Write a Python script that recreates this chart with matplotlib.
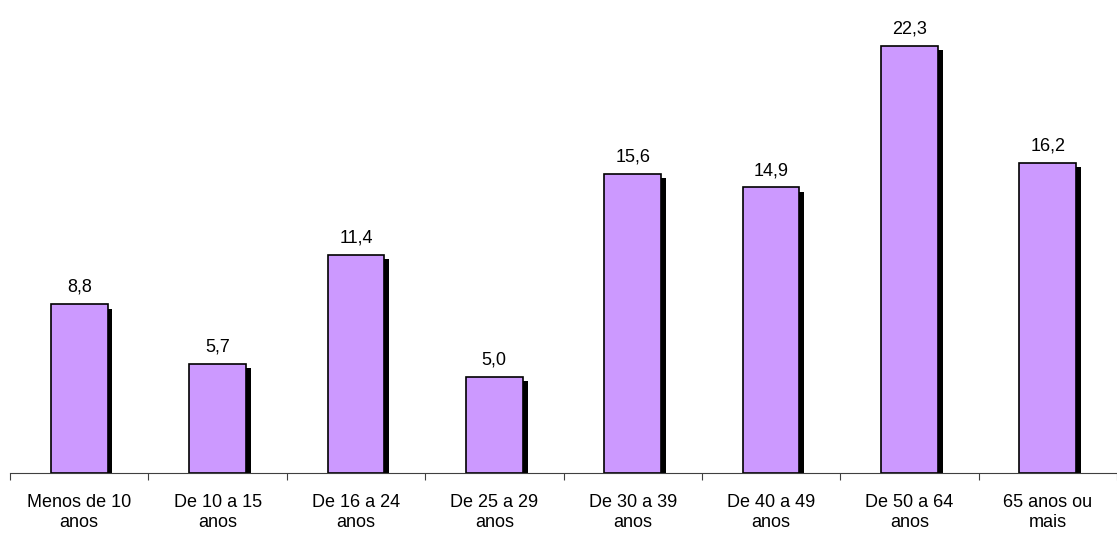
import matplotlib.pyplot as plt
import numpy as np

plt.rcParams['font.family'] = ['Liberation Sans', 'DejaVu Sans']

categorias = ['Menos de 10\nanos', 'De 10 a 15\nanos', 'De 16 a 24\nanos', 'De 25 a 29\nanos',
              'De 30 a 39\nanos', 'De 40 a 49\nanos', 'De 50 a 64\nanos', '65 anos ou\nmais']
valores = [8.8, 5.7, 11.4, 5.0, 15.6, 14.9, 22.3, 16.2]

fig = plt.figure(figsize=(11.17, 5.42), dpi=100)
ax = fig.add_axes([10 / 1117, 69 / 542, 1107 / 1117, 460 / 542])

x = np.arange(len(valores))
larg = 0.41

# sombra preta deslocada para a direita/baixo
ax.bar(x + 0.035, np.array(valores) - 0.22, width=larg, color='black', zorder=1)
ax.bar(x, valores, width=larg, color='#CC99FF', edgecolor='black', linewidth=1.2, zorder=2)

for xi, v in zip(x, valores):
    ax.annotate(f'{v:.1f}'.replace('.', ','), (xi, v), xytext=(0, 6), textcoords='offset points',
                ha='center', va='bottom', fontsize=13)

ax.set_xlim(-0.5, len(valores) - 0.5)
ax.set_ylim(0, 24)
ax.set_yticks([])
ax.set_xticks(x)
ax.set_xticklabels(categorias, fontsize=13, linespacing=1.25)
ax.tick_params(axis='x', which='major', length=0, pad=15)
ax.set_xticks(np.arange(-0.5, len(valores)), minor=True)
ax.tick_params(axis='x', which='minor', length=5, width=0.8, direction='out', color='#404040')
for s in ['top', 'right', 'left']:
    ax.spines[s].set_visible(False)
ax.spines['bottom'].set_color('#404040')
ax.spines['bottom'].set_linewidth(0.8)

fig.savefig('out.png', dpi=100)
